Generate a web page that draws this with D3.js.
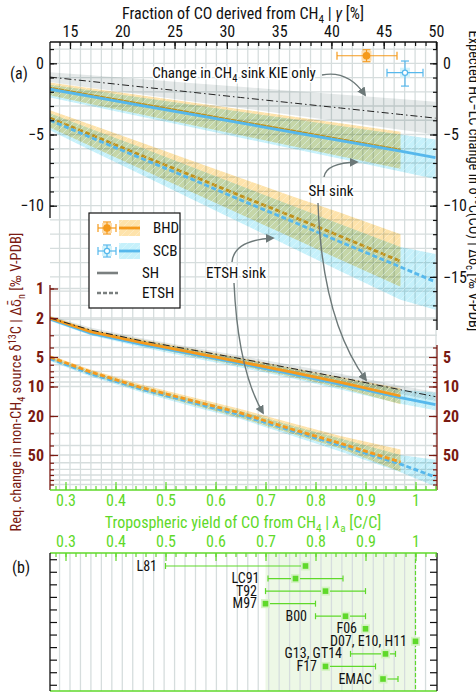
<!DOCTYPE html>
<meta charset="utf-8">
<style>
  body{margin:0;background:#fff}
  svg{position:absolute;left:0;top:0}
  text{font-family:'Roboto Condensed','Liberation Sans Narrow','DejaVu Sans Condensed',Roboto,sans-serif;font-stretch:condensed;fill:#111}
  .grid line{stroke:#d6dddd;stroke-width:1.3}
  .band{mix-blend-mode:multiply}
</style>
<script src="https://d3js.org/d3.v7.min.js"></script>
<svg width="476" height="695"></svg>
<script>
// ---- data ----
var lamB = [0.269, 0.35, 0.45, 0.55, 0.65, 0.75, 0.85, 0.97];
var lamS = [0.269, 0.35, 0.45, 0.55, 0.65, 0.75, 0.85, 0.97, 1.04];

// expected change in d13C(CO), upper part
var kie   = [-0.97, -1.27, -1.65, -2.02, -2.40, -2.77, -3.14, -3.59, -3.85];
var kieHi = [-0.62, -0.84, -1.11, -1.38, -1.65, -1.92, -2.19, -2.51, -2.70];
var kieLo = [-1.32, -1.71, -2.18, -2.66, -3.14, -3.61, -4.09, -4.66, -5.00];
var bhdSH   = [-1.75, -2.25, -2.87, -3.49, -4.11, -4.73, -5.36, -6.10];
var bhdSHhi = [-1.35, -1.75, -2.24, -2.73, -3.22, -3.72, -4.21, -4.80];
var bhdSHlo = [-2.25, -2.85, -3.58, -4.32, -5.05, -5.79, -6.52, -7.40];
var scbSH   = [-1.82, -2.32, -2.95, -3.57, -4.19, -4.81, -5.43, -6.17, -6.62];
var scbSHhi = [-1.50, -1.90, -2.40, -2.90, -3.40, -3.90, -4.40, -5.00, -5.35];
var scbSHlo = [-2.40, -3.00, -3.74, -4.48, -5.22, -5.96, -6.70, -7.60, -8.12];
var bhdET   = [-3.85, -5.00, -6.45, -7.85, -9.30, -10.70, -12.15, -13.90];
var bhdEThi = [-3.30, -4.30, -5.55, -6.80, -8.05, -9.30, -10.50, -12.00];
var bhdETlo = [-4.50, -5.80, -7.40, -9.00, -10.60, -12.20, -13.80, -15.70];
var scbET   = [-4.00, -5.20, -6.65, -8.10, -9.60, -11.05, -12.55, -14.30, -15.35];
var scbEThi = [-3.50, -4.60, -5.90, -7.25, -8.60, -9.95, -11.30, -12.90, -13.40];
var scbETlo = [-4.70, -6.10, -7.80, -9.50, -11.20, -12.90, -14.60, -16.60, -17.30];

// required change in non-CH4 source d13C, lower (log) part
var kieN   = [2.0, 2.65, 3.4, 4.2, 5.2, 6.5, 8.1, 10.8, 12.7];
var kieNlo = [1.9, 2.5, 3.2, 3.95, 4.85, 6.0, 7.4, 9.8, 11.4];
var kieNhi = [2.1, 2.8, 3.6, 4.45, 5.55, 7.0, 8.8, 11.9, 14.1];
var bhdSHn   = [2.0, 2.75, 3.55, 4.45, 5.6, 7.1, 9.1, 12.5];
var bhdSHnLo = [1.92, 2.6, 3.3, 4.1, 5.1, 6.4, 8.0, 10.4];
var bhdSHnHi = [2.08, 2.9, 3.8, 4.85, 6.15, 7.9, 10.3, 15.2];
var scbSHn   = [2.05, 2.85, 3.7, 4.62, 5.82, 7.4, 9.5, 13.0, 15.3];
var scbSHnLo = [1.95, 2.65, 3.4, 4.2, 5.25, 6.6, 8.3, 10.8, 11.5];
var scbSHnHi = [2.15, 3.0, 3.95, 5.05, 6.4, 8.2, 10.7, 15.0, 17.5];
var bhdETn   = [5.0, 7.1, 10.2, 13.8, 18.6, 27, 38, 59];
var bhdETnLo = [4.8, 6.7, 9.5, 12.7, 17.0, 23.5, 32, 44];
var bhdETnHi = [5.3, 7.6, 11.0, 15.2, 20.8, 30, 43, 74];
var scbETn   = [5.2, 7.4, 10.6, 14.4, 19.5, 28, 40, 62, 84];
var scbETnLo = [5.0, 7.0, 9.9, 13.3, 17.8, 24.8, 34, 50, 56];
var scbETnHi = [5.5, 7.9, 11.4, 15.8, 21.5, 31.5, 46, 75, 105];

// observed BHD / SCB points
var obsName = ["BHD", "SCB"];
var obsLam = [0.902, 0.979], obsLamLo = [0.843, 0.943], obsLamHi = [0.963, 1.015];
var obsD = [0.53, -0.66], obsDLo = [0.11, -1.6], obsDHi = [0.95, 0.16];

// panel (b): literature yields
var studies = ["L81", "LC91", "T92", "M97", "B00", "F06", "D07, E10, H11", "G13, GT14", "F17", "EMAC"];
var yields  = [0.78, 0.76, 0.82, 0.70, 0.86, 0.90, 1.00, 0.94, 0.82, 0.935];
var yieldLo = [0.50, 0.705, 0.70, 0.70, 0.80, 0.90, 1.00, 0.87, 0.82, 0.93];
var yieldHi = [0.78, 0.855, 0.90, 0.80, 0.90, 0.90, 1.00, 0.96, 0.92, 0.965];

var gammaMajor = [15, 20, 25, 30, 35, 40, 45, 50];
var lamMajor = [0.3, 0.4, 0.5, 0.6, 0.7, 0.8, 0.9, 1];
var logMajor = [1, 2, 5, 10, 20, 50];
var logAll = [1, 2, 3, 4, 5, 6, 7, 8, 9, 10, 20, 30, 40, 50, 60, 70, 80, 90, 100];

// ---- setup ----
var ORANGE = "#f59a1c", BLUE = "#56b8ec", ORB = "#fee3ab", BLB = "#c6f1fb";
var GREEN = "#5fd92a", BROWN = "#7a1a12", ARROW = "#6c7878";
var X0 = 50, X1 = 437, YT = 42, YB = 490;

var svg = d3.select("svg");
var xL = d3.scaleLinear().domain([0.3, 1]).range([65.5, 415.5]);
var xG = d3.scaleLinear().domain([15, 50]).range([70, 436]);
var yU = d3.scaleLinear().domain([0, -15]).range([63.3, 276.9]);
var yN = d3.scaleLog().domain([1, 100]).range([288.5, 484.5]);
var yB = d3.scalePoint().domain(studies).range([566, 679]);
var stepB = yB.step();

function rich(sel, parts) {
  var back = 0;
  parts.forEach(function(p) {
    var t = sel.append("tspan");
    if (typeof p === "string") {
      t.text(p);
      if (back) { t.attr("dy", back); back = 0; }
    } else {
      var sh = p.sub ? 3.5 : (p.sup ? -5.5 : 0);
      t.attr("dy", sh + back).text(p.t);
      if (p.sub || p.sup) t.attr("font-size", "0.7em");
      if (p.it) t.attr("font-style", "italic");
      back = -sh;
    }
  });
  return sel;
}

var defs = svg.append("defs");
defs.append("clipPath").attr("id", "clipA").append("rect")
  .attr("x", X0).attr("y", YT).attr("width", X1 - X0).attr("height", YB - YT);
var hatch = defs.append("pattern").attr("id", "hatch").attr("patternUnits", "userSpaceOnUse")
  .attr("width", 7).attr("height", 7);
hatch.append("path").attr("d", "M-1,1 l2,-2 M0,7 l7,-7 M6,8 l2,-2")
  .attr("stroke", "#fff").attr("stroke-width", 0.7).attr("opacity", 0.4);
defs.append("marker").attr("id", "head").attr("viewBox", "0 0 10 10")
  .attr("refX", 8).attr("refY", 5).attr("markerWidth", 9).attr("markerHeight", 9)
  .attr("markerUnits", "userSpaceOnUse").attr("orient", "auto")
  .append("path").attr("d", "M0,0 L10,5 L0,10 z").attr("fill", ARROW);

// ---- panel (a) ----
var gA = svg.append("g").attr("clip-path", "url(#clipA)");
var grid = gA.append("g").attr("class", "grid");
grid.selectAll(".gv").data(d3.range(14, 51)).join("line")
  .attr("x1", function(d) { return xG(d); }).attr("x2", function(d) { return xG(d); })
  .attr("y1", YT).attr("y2", YB);
grid.selectAll(".gh").data(d3.range(1, -19, -1)).join("line").attr("class", "gh")
  .attr("x1", X0).attr("x2", X1)
  .attr("y1", function(d) { return yU(d); }).attr("y2", function(d) { return yU(d); });
grid.selectAll(".gl").data(logAll).join("line").attr("class", "gl")
  .attr("x1", X0).attr("x2", X1)
  .attr("y1", function(d) { return yN(d); }).attr("y2", function(d) { return yN(d); });

function areaOf(y, xs, lo, hi) {
  return d3.area().x(function(d) { return xL(d[0]); })
    .y0(function(d) { return y(d[1]); }).y1(function(d) { return y(d[2]); })(xs.map(function(x, i) { return [x, lo[i], hi[i]]; }));
}
function lineOf(y, xs, vs) {
  return d3.line().x(function(d) { return xL(d[0]); }).y(function(d) { return y(d[1]); })(xs.map(function(x, i) { return [x, vs[i]]; }));
}
function band(g, y, xs, lo, hi, fill, hatched) {
  g.append("path").attr("class", "band").attr("d", areaOf(y, xs, lo, hi)).attr("fill", fill);
  if (hatched) g.append("path").attr("d", areaOf(y, xs, lo, hi)).attr("fill", "url(#hatch)");
}
function curve(g, y, xs, vs, color, dashed, w) {
  return g.append("path").attr("d", lineOf(y, xs, vs)).attr("fill", "none").attr("stroke", color)
    .attr("stroke-width", w || 2.8).attr("stroke-dasharray", dashed ? "5,2.6" : null);
}

// upper part
band(gA, yU, lamS, kieLo, kieHi, "#e5e9e9", false);
band(gA, yU, lamB, bhdSHlo, bhdSHhi, ORB, true);
band(gA, yU, lamB, bhdETlo, bhdEThi, ORB, true);
curve(gA, yU, lamB, bhdSH, ORANGE, false);
curve(gA, yU, lamB, bhdET, ORANGE, true);
band(gA, yU, lamS, scbSHlo, scbSHhi, BLB, true);
band(gA, yU, lamS, scbETlo, scbEThi, BLB, true);
curve(gA, yU, lamS, scbSH, BLUE, false);
curve(gA, yU, lamS, scbET, BLUE, true);
curve(gA, yU, lamS, kie, "#222", false, 1).attr("stroke-dasharray", "7,3,1.5,3");

// lower part
band(gA, yN, lamS, kieNlo, kieNhi, "#e5e9e9", false);
band(gA, yN, lamS, scbSHnLo, scbSHnHi, BLB, true);
band(gA, yN, lamS, scbETnLo, scbETnHi, BLB, true);
band(gA, yN, lamB, bhdSHnLo, bhdSHnHi, ORB, true);
band(gA, yN, lamB, bhdETnLo, bhdETnHi, ORB, true);
curve(gA, yN, lamS, scbSHn, BLUE, false);
curve(gA, yN, lamS, scbETn, BLUE, true);
curve(gA, yN, lamB, bhdSHn, ORANGE, false);
curve(gA, yN, lamB, bhdETn, ORANGE, true);
curve(gA, yN, lamS, kieN, "#222", false, 1).attr("stroke-dasharray", "7,3,1.5,3");

// axes of panel (a)
function vline(x, y1, y2, color) {
  svg.append("line").attr("x1", x).attr("x2", x).attr("y1", y1).attr("y2", y2)
    .attr("stroke", color).attr("stroke-width", 1.3);
}
function hline(y, x1, x2, color) {
  svg.append("line").attr("x1", x1).attr("x2", x2).attr("y1", y).attr("y2", y)
    .attr("stroke", color).attr("stroke-width", 1.3);
}
function styleAxis(g, color, size, weight) {
  g.select(".domain").remove();
  g.selectAll("line").attr("stroke", color).attr("stroke-width", 1.2);
  g.selectAll("text").attr("fill", color).attr("font-size", size || 16)
    .attr("font-weight", weight || null).style("fill", color);
}

// top gamma axis
hline(YT, X0, X1, "#111");
svg.append("g").attr("transform", "translate(0," + YT + ")")
  .call(d3.axisTop(xG).tickValues(d3.range(14, 51)).tickSize(-4).tickFormat(""))
  .call(styleAxis, "#111");
svg.append("g").attr("transform", "translate(0," + YT + ")")
  .call(d3.axisTop(xG).tickValues(gammaMajor).tickSize(-7).tickPadding(5).tickFormat(d3.format("d")))
  .call(styleAxis, "#111");
rich(svg.append("text").attr("x", 243).attr("y", 19).attr("text-anchor", "middle").attr("font-size", 16),
  ["Fraction of CO derived from CH", {t: "4", sub: true}, " | ", {t: "γ", it: true}, " [%]"]);

// left / right linear axes
vline(X0, YT, 218, "#111");
vline(X1, YT, 330, "#111");
svg.append("g").attr("transform", "translate(" + X0 + ",0)")
  .call(d3.axisLeft(yU).tickValues(d3.range(1, -11, -1)).tickSize(-4).tickFormat(""))
  .call(styleAxis, "#111");
svg.append("g").attr("transform", "translate(" + X0 + ",0)")
  .call(d3.axisLeft(yU).tickValues([0, -5, -10]).tickSize(-7).tickPadding(6))
  .call(styleAxis, "#111");
svg.append("g").attr("transform", "translate(" + X1 + ",0)")
  .call(d3.axisRight(yU).tickValues(d3.range(1, -19, -1)).tickSize(-4).tickFormat(""))
  .call(styleAxis, "#111");
svg.append("g").attr("transform", "translate(" + X1 + ",0)")
  .call(d3.axisRight(yU).tickValues([0, -5, -10, -15]).tickSize(-7).tickPadding(6))
  .call(styleAxis, "#111");

// log axes (brown)
vline(X0, 285, YB, BROWN);
vline(X1, 345, YB, BROWN);
svg.append("g").attr("transform", "translate(" + X0 + ",0)")
  .call(d3.axisLeft(yN).tickValues(logAll).tickSize(-4).tickFormat(""))
  .call(styleAxis, BROWN);
svg.append("g").attr("transform", "translate(" + X0 + ",0)")
  .call(d3.axisLeft(yN).tickValues(logMajor).tickSize(-8).tickPadding(6).tickFormat(d3.format("d")))
  .call(styleAxis, BROWN, 16, "bold");
svg.append("g").attr("transform", "translate(" + X1 + ",0)")
  .call(d3.axisRight(yN).tickValues(logAll.filter(function(d) { return d >= 4; })).tickSize(-4).tickFormat(""))
  .call(styleAxis, BROWN);
svg.append("g").attr("transform", "translate(" + X1 + ",0)")
  .call(d3.axisRight(yN).tickValues([5, 10, 20, 50]).tickSize(-8).tickPadding(6).tickFormat(d3.format("d")))
  .call(styleAxis, BROWN, 16, "bold");

// bottom lambda axis (green)
hline(YB, X0, X1, GREEN);
svg.append("g").attr("transform", "translate(0," + YB + ")")
  .call(d3.axisBottom(xL).tickValues(d3.range(0.28, 1.045, 0.02)).tickSize(-4).tickFormat(""))
  .call(styleAxis, GREEN);
svg.append("g").attr("transform", "translate(0," + YB + ")")
  .call(d3.axisBottom(xL).tickValues(lamMajor).tickSize(-8).tickPadding(5).tickFormat(d3.format("~g")))
  .call(styleAxis, GREEN);
rich(svg.append("text").attr("x", 243).attr("y", 528).attr("text-anchor", "middle").attr("font-size", 16).style("fill", GREEN),
  ["Tropospheric yield of CO from CH", {t: "4", sub: true}, " | ", {t: "λ", it: true}, {t: "a", sub: true}, " [C/C]"]);

// side titles
rich(svg.append("text").attr("transform", "translate(21,382) rotate(-90)").attr("text-anchor", "middle")
  .attr("font-size", 14.5).style("fill", BROWN),
  ["Req. change in non-CH", {t: "4", sub: true}, " source δ", {t: "13", sup: true}, "C | Δδ\u0304", {t: "n", sub: true}, " [‰ V-PDB]"]);
rich(svg.append("text").attr("transform", "translate(469,181) rotate(90)").attr("text-anchor", "middle")
  .attr("font-size", 14.5),
  ["Expected HC−LC change in δ", {t: "13", sup: true}, "C(CO) | Δδ", {t: "c", sub: true}, " [‰ V-PDB]"]);

// annotations
function note(x, y, parts) {
  return rich(svg.append("text").attr("x", x).attr("y", y).attr("text-anchor", "middle").attr("font-size", 15)
    .attr("stroke", "#fff").attr("stroke-width", 3).attr("paint-order", "stroke"), parts);
}
function arrow(d) {
  svg.append("path").attr("d", d).attr("fill", "none").attr("stroke", ARROW)
    .attr("stroke-width", 1.4).attr("marker-end", "url(#head)");
}
arrow("M322,75 Q348,70 365,95");
arrow("M324,177 Q326,163 357,162");
arrow("M318,203 Q322,320 366,380");
arrow("M232,262 Q234,240 273,238");
arrow("M234,283 Q238,370 263,413");
note(234, 78, ["Change in CH", {t: "4", sub: true}, " sink KIE only"]);
note(331, 196, ["SH sink"]);
note(236, 278, ["ETSH sink"]);
svg.append("text").attr("x", 19).attr("y", 79).attr("text-anchor", "middle").attr("font-size", 16).text("(a)");

// observed points
function obsMarker(g, cx, cy, x1, x2, y1, y2, color, filled) {
  g.append("rect").attr("x", cx - 5).attr("y", cy - 5).attr("width", 10).attr("height", 10)
    .attr("fill", filled ? "#fddcaa" : "#d4f3fb");
  g.append("line").attr("x1", x1).attr("x2", x2).attr("y1", cy).attr("y2", cy).attr("stroke", color).attr("stroke-width", 1.2);
  g.append("line").attr("x1", cx).attr("x2", cx).attr("y1", y1).attr("y2", y2).attr("stroke", color).attr("stroke-width", 1.2);
  [x1, x2].forEach(function(x) {
    g.append("line").attr("x1", x).attr("x2", x).attr("y1", cy - 4).attr("y2", cy + 4).attr("stroke", color).attr("stroke-width", 1.2);
  });
  [y1, y2].forEach(function(y) {
    g.append("line").attr("x1", cx - 4).attr("x2", cx + 4).attr("y1", y).attr("y2", y).attr("stroke", color).attr("stroke-width", 1.2);
  });
  g.append("circle").attr("cx", cx).attr("cy", cy).attr("r", filled ? 3.2 : 2.6)
    .attr("fill", filled ? color : "#fff").attr("stroke", color).attr("stroke-width", 1.2);
}
obsName.forEach(function(n, i) {
  obsMarker(svg, xL(obsLam[i]), yU(obsD[i]), xL(obsLamLo[i]), xL(obsLamHi[i]), yU(obsDHi[i]), yU(obsDLo[i]),
    i ? BLUE : ORANGE, !i);
});

// legend
var lg = svg.append("g");
lg.append("rect").attr("x", 89).attr("y", 213).attr("width", 91).attr("height", 95)
  .attr("fill", "#fff").attr("stroke", "#111").attr("stroke-width", 1.2);
[[228, ORANGE, ORB, true, "BHD"], [251, BLUE, BLB, false, "SCB"]].forEach(function(r) {
  obsMarker(lg, 107, r[0], 98, 116, r[0] - 6, r[0] + 6, r[1], r[3]);
  lg.append("rect").attr("x", 119).attr("y", r[0] - 8).attr("width", 21).attr("height", 16).attr("fill", r[2]);
  lg.append("rect").attr("x", 119).attr("y", r[0] - 8).attr("width", 21).attr("height", 16).attr("fill", "url(#hatch)");
  lg.append("line").attr("x1", 119).attr("x2", 140).attr("y1", r[0]).attr("y2", r[0]).attr("stroke", r[1]).attr("stroke-width", 2.8);
  lg.append("text").attr("x", 153).attr("y", r[0] + 5).attr("font-size", 15).text(r[4]);
});
[[273, null, "SH"], [293, "4,2", "ETSH"]].forEach(function(r) {
  lg.append("line").attr("x1", 97).attr("x2", 118).attr("y1", r[0]).attr("y2", r[0])
    .attr("stroke", "#7a7f7f").attr("stroke-width", 2.6).attr("stroke-dasharray", r[1]);
  lg.append("text").attr("x", 142).attr("y", r[0] + 5).attr("font-size", 15).text(r[2]);
});

// ---- panel (b) ----
var BT = 553, BB = 691;
svg.append("rect").attr("x", xL(0.7)).attr("y", BT).attr("width", xL(1) - xL(0.7)).attr("height", BB - BT)
  .attr("fill", "#edf8e6");
var gridB = svg.append("g").attr("class", "grid");
gridB.selectAll("line").data(d3.range(14, 50)).join("line")
  .attr("x1", function(d) { return xG(d); }).attr("x2", function(d) { return xG(d); })
  .attr("y1", BT).attr("y2", BB);
svg.append("line").attr("x1", xL(1)).attr("x2", xL(1)).attr("y1", BT).attr("y2", BB)
  .attr("stroke", GREEN).attr("stroke-width", 1.2).attr("stroke-dasharray", "4,2");
hline(BT, X0, X1, GREEN);
hline(BB, X0, X1, GREEN);
vline(X0, BT, BB, "#111");
vline(X1, BT, BB, "#111");
svg.append("g").attr("transform", "translate(0," + BT + ")")
  .call(d3.axisTop(xL).tickValues(d3.range(0.28, 1.045, 0.02)).tickSize(-4).tickFormat(""))
  .call(styleAxis, GREEN);
svg.append("g").attr("transform", "translate(0," + BT + ")")
  .call(d3.axisTop(xL).tickValues(lamMajor).tickSize(-8).tickPadding(6).tickFormat(d3.format("~g")))
  .call(styleAxis, GREEN);
var bTicks = studies.map(function(s) { return yB(s) - stepB / 2; }).concat([yB(studies[studies.length - 1]) + stepB / 2]);
bTicks.forEach(function(y) {
  svg.append("line").attr("x1", X0).attr("x2", X0 + 7).attr("y1", y).attr("y2", y).attr("stroke", "#111").attr("stroke-width", 1.2);
  svg.append("line").attr("x1", X1 - 7).attr("x2", X1).attr("y1", y).attr("y2", y).attr("stroke", "#111").attr("stroke-width", 1.2);
});
var rows = svg.append("g").selectAll("g").data(studies).join("g");
rows.each(function(s, i) {
  var g = d3.select(this), y = yB(s);
  if (yieldHi[i] > yieldLo[i]) {
    g.append("line").attr("x1", xL(yieldLo[i])).attr("x2", xL(yieldHi[i])).attr("y1", y).attr("y2", y)
      .attr("stroke", GREEN).attr("stroke-width", 1.2);
    [yieldLo[i], yieldHi[i]].forEach(function(v) {
      g.append("line").attr("x1", xL(v)).attr("x2", xL(v)).attr("y1", y - 3).attr("y2", y + 3)
        .attr("stroke", GREEN).attr("stroke-width", 1.2);
    });
  }
  g.append("rect").attr("x", xL(yields[i]) - 4.5).attr("y", y - 4.5).attr("width", 9).attr("height", 9).attr("fill", "#d5f3c4");
  g.append("rect").attr("x", xL(yields[i]) - 2.8).attr("y", y - 2.8).attr("width", 5.6).attr("height", 5.6).attr("fill", GREEN);
  g.append("text").attr("x", xL(Math.min(yieldLo[i], yields[i])) - 8.5).attr("y", y + 4.5)
    .attr("text-anchor", "end").attr("font-size", 14).text(s);
});
svg.append("text").attr("x", 21).attr("y", 573).attr("text-anchor", "middle").attr("font-size", 16).text("(b)");
</script>
